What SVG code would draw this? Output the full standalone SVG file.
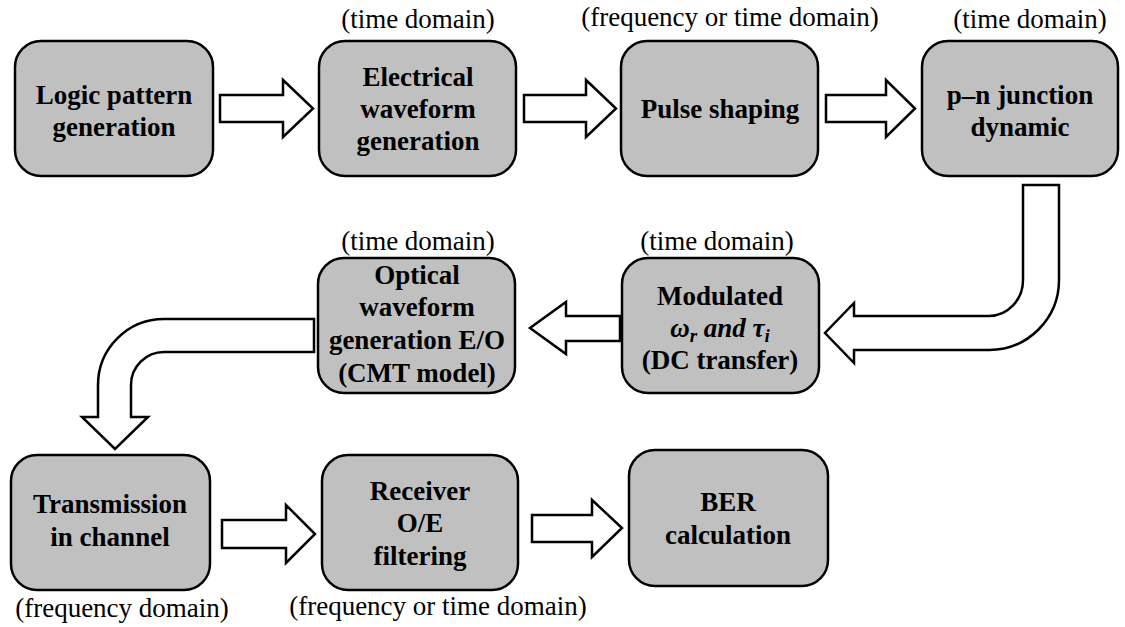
<svg xmlns="http://www.w3.org/2000/svg" width="1125" height="627" viewBox="0 0 1125 627">
<style>
.box{fill:#c0c0c0;stroke:#000;stroke-width:2.5}
.arr{fill:#fff;stroke:#000;stroke-width:2.5;stroke-linejoin:miter}
.t{font-weight:bold;font-size:27px;text-anchor:middle;fill:#000}
.lab{font-size:27px;text-anchor:middle;fill:#000}
</style>
<rect width="1125" height="627" fill="#fff"/>
<g id="connectors">
<path class="arr" d="M220,95 H283 V80 L313,108.5 L283,137 V122 H220 Z"/>
<path class="arr" d="M524,95 H586 V80 L616,108.5 L586,137 V122 H524 Z"/>
<path class="arr" d="M826,95 H886 V80 L915,108.5 L886,137 V122 H826 Z"/>
<path class="arr" d="M1023,185 H1059 V280 A70,70 0 0 1 989,350 H854 V363 L825,333 L854,303 V316 H989 A34,36 0 0 0 1023,280 Z"/>
<path class="arr" d="M620,316 H566 V302 L530,328 L566,354 V341 H620 Z"/>
<path class="arr" d="M314,319 V352 H164 A33,33 0 0 0 131,385 V417 H148 L115,449 L82,417 H98 V385 A66,66 0 0 1 164,319 Z"/>
<path class="arr" d="M222,520 H286 V505 L315,534 L286,563 V548 H222 Z"/>
<path class="arr" d="M532,515 H592 V500 L622,528 L592,557 V542 H532 Z"/>
</g>
<g font-family="Liberation Serif, Tinos, DejaVu Serif, serif">
<g id="logic">
<rect class="box" x="15" y="41" width="198" height="135" rx="26"/>
<text class="t" x="114" y="104">Logic pattern</text>
<text class="t" x="114" y="136">generation</text>
</g>
<g id="electrical">
<rect class="box" x="319" y="41" width="197" height="135" rx="26"/>
<text class="lab" x="418" y="28">(time domain)</text>
<text class="t" x="418" y="86">Electrical</text>
<text class="t" x="418" y="118">waveform</text>
<text class="t" x="418" y="150">generation</text>
</g>
<g id="pulse">
<rect class="box" x="621" y="41" width="197" height="135" rx="26"/>
<text class="lab" x="730" y="26">(frequency or time domain)</text>
<text class="t" x="720" y="118">Pulse shaping</text>
</g>
<g id="pn">
<rect class="box" x="922" y="41" width="196" height="135" rx="26"/>
<text class="lab" x="1030" y="28">(time domain)</text>
<text class="t" x="1020" y="104">p–n junction</text>
<text class="t" x="1020" y="136">dynamic</text>
</g>
<g id="modulated">
<rect class="box" x="622" y="258" width="197" height="135" rx="26"/>
<text class="lab" x="717" y="250">(time domain)</text>
<text class="t" x="720" y="305">Modulated</text>
<text class="t" x="720" y="337" font-style="italic">ω<tspan font-size="19" dy="5">r</tspan><tspan dy="-5"> and τ</tspan><tspan font-size="19" dy="5">i</tspan></text>
<text class="t" x="720" y="369">(DC transfer)</text>
</g>
<g id="optical">
<rect class="box" x="318" y="258" width="197" height="135" rx="26"/>
<text class="lab" x="418" y="250">(time domain)</text>
<text class="t" x="417" y="284">Optical</text>
<text class="t" x="417" y="316">waveform</text>
<text class="t" x="417" y="349">generation E/O</text>
<text class="t" x="417" y="382">(CMT model)</text>
</g>
<g id="transmission">
<rect class="box" x="11" y="455" width="199" height="135" rx="26"/>
<text class="t" x="110" y="513">Transmission</text>
<text class="t" x="110" y="546">in channel</text>
<text class="lab" x="122" y="617">(frequency domain)</text>
</g>
<g id="receiver">
<rect class="box" x="322" y="455" width="196" height="135" rx="26"/>
<text class="t" x="420" y="500">Receiver</text>
<text class="t" x="420" y="532">O/E</text>
<text class="t" x="420" y="565">filtering</text>
<text class="lab" x="438" y="615">(frequency or time domain)</text>
</g>
<g id="ber">
<rect class="box" x="629" y="450" width="199" height="136" rx="26"/>
<text class="t" x="728" y="511">BER</text>
<text class="t" x="728" y="544">calculation</text>
</g>
</g>
</svg>
